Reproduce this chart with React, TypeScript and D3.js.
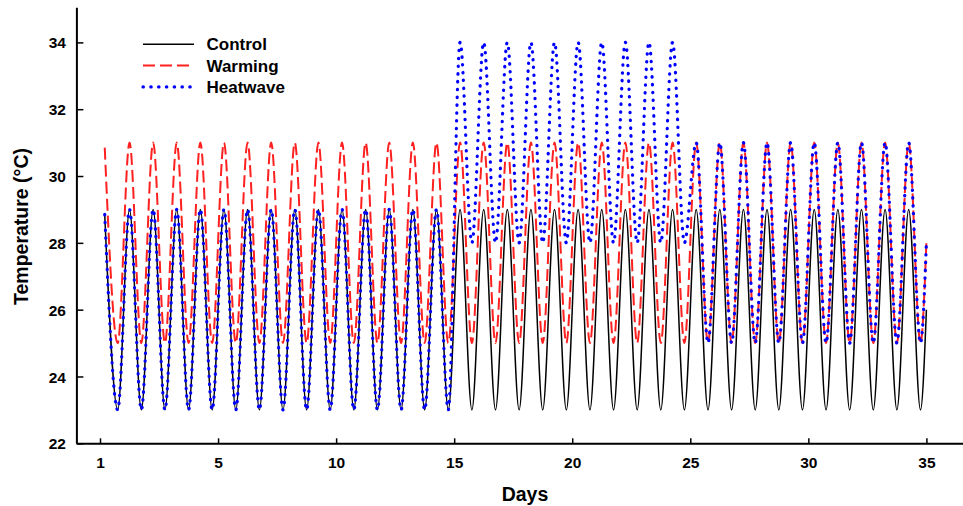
import React, { useEffect, useRef } from "react";
import * as d3 from "d3";

// days of the daily maxima / minima
const startDay = 0.2;
const endDay = 35;
const peakDays = [
  1.25, 2.25, 3.25, 4.25, 5.25, 6.25, 7.25, 8.25, 9.25, 10.25, 11.25, 12.25,
  13.25, 14.25, 15.25, 16.25, 17.25, 18.25, 19.25, 20.25, 21.25, 22.25, 23.25,
  24.25, 25.25, 26.25, 27.25, 28.25, 29.25, 30.25, 31.25, 32.25, 33.25, 34.25,
];
const troughDays = [
  0.75, 1.75, 2.75, 3.75, 4.75, 5.75, 6.75, 7.75, 8.75, 9.75, 10.75, 11.75,
  12.75, 13.75, 14.75, 15.75, 16.75, 17.75, 18.75, 19.75, 20.75, 21.75, 22.75,
  23.75, 24.75, 25.75, 26.75, 27.75, 28.75, 29.75, 30.75, 31.75, 32.75, 33.75,
  34.75,
];

const controlStart = 28.85;
const controlEnd = 26;
const controlPeaks = [
  29, 29, 29, 29, 29, 29, 29, 29, 29, 29, 29, 29, 29, 29, 29, 29, 29, 29, 29,
  29, 29, 29, 29, 29, 29, 29, 29, 29, 29, 29, 29, 29, 29, 29,
];
const controlTroughs = [
  23, 23, 23, 23, 23, 23, 23, 23, 23, 23, 23, 23, 23, 23, 23, 23, 23, 23, 23,
  23, 23, 23, 23, 23, 23, 23, 23, 23, 23, 23, 23, 23, 23, 23, 23,
];

const warmingStart = 30.85;
const warmingEnd = 28;
const warmingPeaks = [
  31, 31, 31, 31, 31, 31, 31, 31, 31, 31, 31, 31, 31, 31, 31, 31, 31, 31, 31,
  31, 31, 31, 31, 31, 31, 31, 31, 31, 31, 31, 31, 31, 31, 31,
];
const warmingTroughs = [
  25, 25, 25, 25, 25, 25, 25, 25, 25, 25, 25, 25, 25, 25, 25, 25, 25, 25, 25,
  25, 25, 25, 25, 25, 25, 25, 25, 25, 25, 25, 25, 25, 25, 25, 25,
];

const heatwaveStart = 28.85;
const heatwaveEnd = 28;
const heatwavePeaks = [
  29, 29, 29, 29, 29, 29, 29, 29, 29, 29, 29, 29, 29, 29, 34, 34, 34, 34, 34,
  34, 34, 34, 34, 34, 31, 31, 31, 31, 31, 31, 31, 31, 31, 31,
];
const heatwaveTroughs = [
  23, 23, 23, 23, 23, 23, 23, 23, 23, 23, 23, 23, 23, 23, 23, 28, 28, 28, 28,
  28, 28, 28, 28, 28, 28, 25, 25, 25, 25, 25, 25, 25, 25, 25, 25,
];

const xTicks = [0, 5, 10, 15, 20, 25, 30, 35];
const xTickLabels = ["1", "5", "10", "15", "20", "25", "30", "35"];
const yTicks = [22, 24, 26, 28, 30, 32, 34];

const seriesNames = ["Control", "Warming", "Heatwave"];

const FONT = "'Liberation Sans', Arial, sans-serif";

function buildSeries(start: number, peaks: number[], troughs: number[], end: number) {
  const pts: [number, number][] = [[startDay, start]];
  troughDays.forEach((d, i) => {
    pts.push([d, troughs[i]]);
    if (i < peakDays.length) pts.push([peakDays[i], peaks[i]]);
  });
  pts.push([endDay, end]);
  return pts;
}

const styles = [
  { stroke: "#000000", width: 1.5, dash: null, cap: "butt" },
  { stroke: "#ff2020", width: 2, dash: "12 5", cap: "butt" },
  { stroke: "#0000ff", width: 3.2, dash: "0.4 7.4", cap: "round" },
];

export default function App() {
  const ref = useRef<SVGSVGElement>(null);

  useEffect(() => {
    const width = 963;
    const height = 506;
    const svg = d3.select(ref.current);
    svg.selectAll("*").remove();

    const x = d3.scaleLinear().domain([-1, 36.55]).range([76.4, 963]);
    const y = d3.scaleLinear().domain([22, 35.05]).range([443.3, 7.3]);

    const data = [
      buildSeries(controlStart, controlPeaks, controlTroughs, controlEnd),
      buildSeries(warmingStart, warmingPeaks, warmingTroughs, warmingEnd),
      buildSeries(heatwaveStart, heatwavePeaks, heatwaveTroughs, heatwaveEnd),
    ];

    const line = d3
      .line<[number, number]>()
      .x((d) => x(d[0]))
      .y((d) => y(d[1]))
      .curve(d3.curveMonotoneX);

    svg.attr("width", width).attr("height", height);

    svg
      .append("g")
      .selectAll("path")
      .data(data)
      .join("path")
      .attr("d", (d) => line(d))
      .attr("fill", "none")
      .attr("stroke", (_, i) => styles[i].stroke)
      .attr("stroke-width", (_, i) => styles[i].width)
      .attr("stroke-dasharray", (_, i) => styles[i].dash)
      .attr("stroke-linecap", (_, i) => styles[i].cap);

    // axes
    const xAxis = svg
      .append("g")
      .attr("transform", `translate(0,${y(22)})`)
      .call(
        d3
          .axisBottom(x)
          .tickValues(xTicks)
          .tickFormat((_, i) => xTickLabels[i])
          .tickSizeInner(-5)
          .tickSizeOuter(0)
          .tickPadding(13.5)
      );
    const yAxis = svg
      .append("g")
      .attr("transform", `translate(${x(-1)},0)`)
      .call(
        d3
          .axisLeft(y)
          .tickValues(yTicks)
          .tickFormat(d3.format("d"))
          .tickSizeInner(-7)
          .tickSizeOuter(0)
          .tickPadding(10.5)
      );
    [xAxis, yAxis].forEach((g) => {
      g.attr("font-family", FONT).attr("font-size", 15.5).attr("font-weight", "bold");
      g.select(".domain").attr("stroke", "#000").attr("stroke-width", 2);
      g.selectAll(".tick line").attr("stroke", "#000").attr("stroke-width", 1.5);
      g.selectAll(".tick text").attr("fill", "#000");
    });
    yAxis.selectAll(".tick text").attr("dy", "0.36em");

    // titles
    svg
      .append("text")
      .attr("x", 525)
      .attr("y", 500.5)
      .attr("text-anchor", "middle")
      .attr("font-family", FONT)
      .attr("font-weight", "bold")
      .attr("font-size", 19.5)
      .text("Days");
    svg
      .append("text")
      .attr("transform", `translate(28,${226.5}) rotate(-90)`)
      .attr("text-anchor", "middle")
      .attr("font-family", FONT)
      .attr("font-weight", "bold")
      .attr("font-size", 19.5)
      .text("Temperature (°C)");

    // legend
    const legend = svg.append("g");
    const rows = legend
      .selectAll("g")
      .data(seriesNames)
      .join("g")
      .attr("transform", (_, i) => `translate(143,${44.3 + i * 21.3})`);
    rows
      .append("line")
      .attr("x1", 0)
      .attr("x2", 51)
      .attr("stroke", (_, i) => styles[i].stroke)
      .attr("stroke-width", (_, i) => styles[i].width)
      .attr("stroke-dasharray", (_, i) => styles[i].dash)
      .attr("stroke-linecap", (_, i) => styles[i].cap);
    rows
      .append("text")
      .attr("x", 63.5)
      .attr("dy", "0.36em")
      .attr("font-family", FONT)
      .attr("font-weight", "bold")
      .attr("font-size", 17)
      .text((d) => d);
  }, []);

  return (
    <svg
      ref={ref}
      style={{ position: "absolute", left: 0, top: 0, background: "#fff" }}
    />
  );
}
